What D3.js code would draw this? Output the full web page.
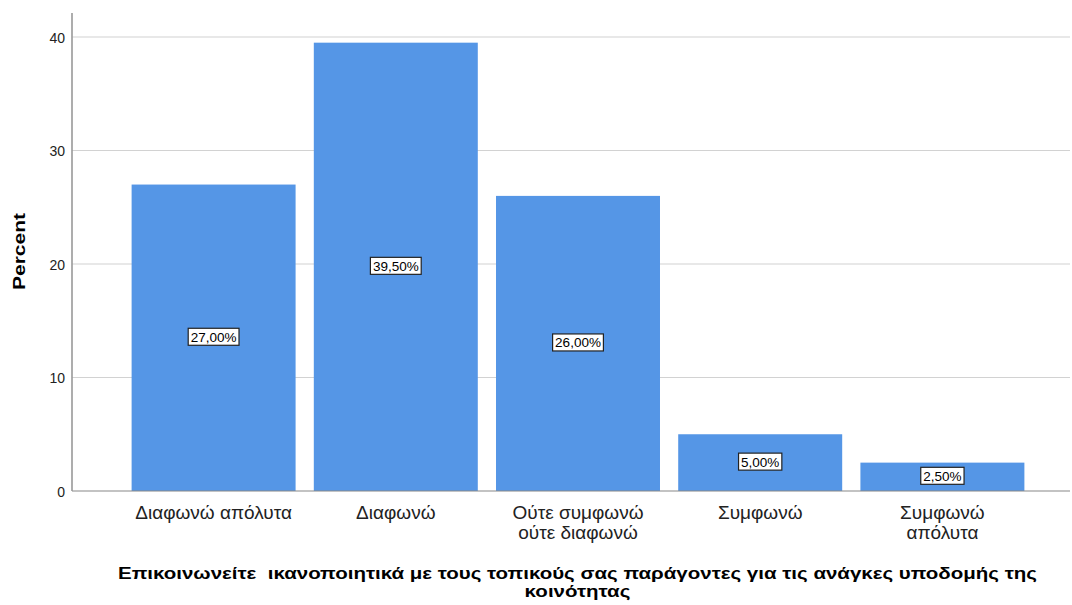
<!DOCTYPE html>
<html>
<head>
<meta charset="utf-8">
<script src="https://cdn.jsdelivr.net/npm/d3@7"></script>
<style>
  body { margin: 0; background: #fff; }
  svg { display: block; font-family: "Liberation Sans", Arial, sans-serif; }
</style>
</head>
<body>
<svg id="chart" width="1072" height="605"></svg>
<script>
const categories = [
  ['Διαφωνώ απόλυτα'],
  ['Διαφωνώ'],
  ['Ούτε συμφωνώ', 'ούτε διαφωνώ'],
  ['Συμφωνώ'],
  ['Συμφωνώ', 'απόλυτα']
]
const percents = [27.0, 39.5, 26.0, 5.0, 2.5]
const yTicks = [0, 10, 20, 30, 40]
const titleLines = ['Επικοινωνείτε  ικανοποιητικά με τους τοπικούς σας παράγοντες για τις ανάγκες υποδομής της', 'κοινότητας']

const data = percents.map((v, i) => ({ label: categories[i], value: v, key: i }))

let svg = d3.select('#chart')

let plotLeft = 72, plotRight = 1070, plotTop = 13, plotBottom = 491

let x = d3.scaleBand()
  .domain(data.map(d => d.key))
  .range([122.5, 1033.5])
  .paddingInner(0.1)
  .paddingOuter(0.05)

let y = d3.scaleLinear()
  .domain([0, 40])
  .range([plotBottom, 37])

// gridlines
svg.append('g')
  .selectAll('line')
  .data(yTicks.filter(t => t > 0))
  .enter().append('line')
  .attr('x1', plotLeft).attr('x2', plotRight)
  .attr('y1', d => y(d)).attr('y2', d => y(d))
  .attr('stroke', '#d2d2d2')
  .attr('stroke-width', 1.2)

// bars
svg.append('g')
  .selectAll('rect')
  .data(data)
  .enter().append('rect')
  .attr('x', d => x(d.key))
  .attr('width', x.bandwidth())
  .attr('y', d => y(d.value))
  .attr('height', d => y(0) - y(d.value))
  .attr('fill', '#5596e6')

// axes lines
svg.append('line')
  .attr('x1', plotLeft).attr('x2', plotRight)
  .attr('y1', plotBottom).attr('y2', plotBottom)
  .attr('stroke', '#888').attr('stroke-width', 1.2)
svg.append('line')
  .attr('x1', plotLeft).attr('x2', plotLeft)
  .attr('y1', plotTop).attr('y2', plotBottom)
  .attr('stroke', '#999').attr('stroke-width', 1.6)

// y tick labels
svg.append('g')
  .selectAll('text')
  .data(yTicks)
  .enter().append('text')
  .attr('x', 65)
  .attr('y', d => y(d))
  .attr('dy', '0.42em')
  .attr('text-anchor', 'end')
  .attr('font-size', 14)
  .attr('fill', '#222')
  .text(d => d)

// y axis title
svg.append('text')
  .attr('transform', 'translate(25,251.5) rotate(-90)')
  .attr('text-anchor', 'middle')
  .attr('font-size', 16)
  .attr('font-weight', 'bold')
  .attr('fill', '#000')
  .attr('textLength', 77)
  .attr('lengthAdjust', 'spacingAndGlyphs')
  .text('Percent')

// category labels
let cat = svg.append('g')
  .selectAll('text')
  .data(data)
  .enter().append('text')
  .attr('text-anchor', 'middle')
  .attr('font-size', 19)
  .attr('fill', '#222')
cat.selectAll('tspan')
  .data(d => d.label.map(l => ({ l, cx: x(d.key) + x.bandwidth() / 2 })))
  .enter().append('tspan')
  .attr('x', d => d.cx)
  .attr('y', (d, i) => 519 + i * 20)
  .text(d => d.l)

// value labels in boxes
let vl = svg.append('g')
  .selectAll('g')
  .data(data)
  .enter().append('g')
  .attr('transform', d => 'translate(' + (x(d.key) + x.bandwidth() / 2) + ',' + (y(d.value / 2) - 1) + ')')
vl.append('text')
  .attr('text-anchor', 'middle')
  .attr('dy', '0.36em')
  .attr('font-size', 13.5)
  .attr('fill', '#000')
  .text(d => d.value.toFixed(2).replace('.', ',') + '%')
vl.each(function () {
  let g = d3.select(this)
  let bb = g.select('text').node().getBBox()
  g.insert('rect', 'text')
    .attr('x', bb.x - 2.5)
    .attr('y', -8.5)
    .attr('width', bb.width + 5)
    .attr('height', 17)
    .attr('fill', '#fff')
    .attr('stroke', '#222')
    .attr('stroke-width', 1.2)
})

// x axis title, stretched to the width of the original
let titles = svg.append('g')
  .selectAll('text')
  .data(titleLines)
  .enter().append('text')
  .attr('x', 577.5)
  .attr('y', (d, i) => 579 + i * 18)
  .attr('text-anchor', 'middle')
  .attr('font-size', 17)
  .attr('font-weight', 'bold')
  .attr('fill', '#000')
  .style('white-space', 'pre')
  .text(d => d)
let stretch = 919 / titles.nodes()[0].getComputedTextLength()
titles.each(function () {
  let w = this.getComputedTextLength()
  d3.select(this)
    .attr('textLength', w * stretch)
    .attr('lengthAdjust', 'spacingAndGlyphs')
})
</script>
</body>
</html>
